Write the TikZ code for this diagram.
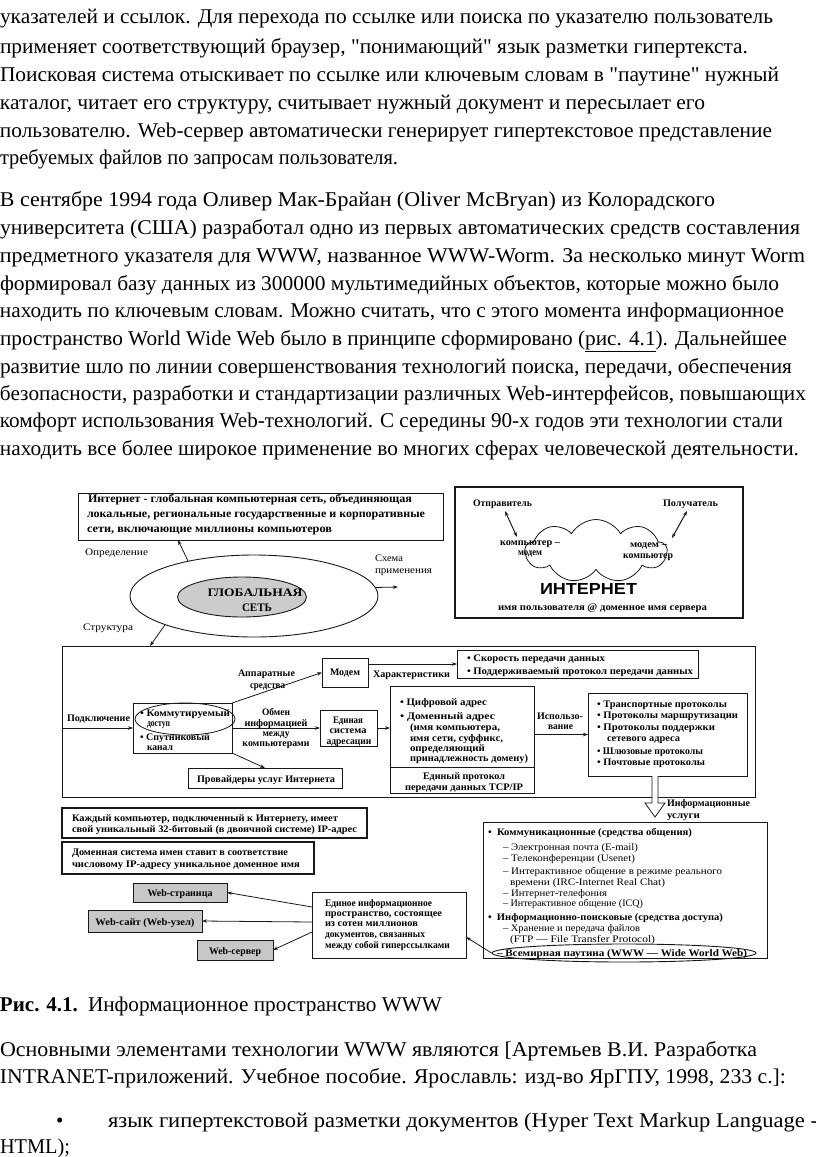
\documentclass[tikz,border=0pt]{standalone}
\usepackage{fontspec}
\setmainfont{Liberation Serif}[Ligatures=TeXOff]
\newfontfamily\sansb{Liberation Sans}
\usepackage{graphicx}
\usetikzlibrary{shapes.geometric,shapes.symbols,arrows.meta,calc}
\newcommand\fl[2]{\resizebox{#1pt}{\height}{#2}}
\newcommand\tl[4]{\node[txt] (#1) at (#2) {\fl{#3}{#4}};}
\newcommand\tc[4]{\node[txtc] (#1) at (#2) {\fl{#3}{#4}};}
\newcommand\bx[6][]{\node[box,#1,minimum width={(#5-#3)*1pt},minimum height={(#6-#4)*1pt}] (#2) at ({(#3+#5)/2},{(#4+#6)/2}) {};}
\begin{document}
\begin{tikzpicture}[x=1pt,y=-1pt,
  txt/.style={anchor=base west,inner sep=0pt,outer sep=0pt},
  txtc/.style={anchor=base,inner sep=0pt,outer sep=0pt},
  box/.style={draw=black!90,line width=0.8pt,inner sep=0pt,outer sep=0pt},
  gbox/.style={box,fill=black!22,line width=1pt},
  arr/.style={draw=black!90,line width=0.8pt,-{Stealth[length=5pt,width=3.5pt]}},
  darr/.style={draw=black!90,line width=1pt,{Stealth[length=5pt,width=3.5pt]}-{Stealth[length=5pt,width=3.5pt]}},
  main/.style={font=\fontsize{21}{25}\selectfont},
  dg/.style={font=\fontsize{10}{11}\selectfont\bfseries},
  dgr/.style={font=\fontsize{10}{11}\selectfont}]
\useasboundingbox[fill=white] (0,0) rectangle (816,1157);

% ---------------- main text ----------------
\begin{scope}[every node/.append style={main}]
\tl{p1}{0,23}{773}{указателей и ссылок. Для перехода по ссылке или поиска по указателю пользователь}
\tl{p2}{0,53}{748}{применяет соответствующий браузер, "понимающий" язык разметки гипертекста.}
\tl{p3}{0,81}{779}{Поисковая система отыскивает по ссылке или ключевым словам в "паутине" нужный}
\tl{p4}{0,109}{705}{каталог, читает его структуру, считывает нужный документ и пересылает его}
\tl{p5}{0,137}{772}{пользователю. Web-сервер автоматически генерирует гипертекстовое представление}
\tl{p6}{0,164}{398}{требуемых файлов по запросам пользователя.}
\tl{q1}{0,206}{715}{В сентябре 1994 года Оливер Мак-Брайан (Oliver McBryan) из Колорадского}
\tl{q2}{0,234}{800}{университета (США) разработал одно из первых автоматических средств составления}
\tl{q3}{0,262}{805}{предметного указателя для WWW, названное WWW-Worm. За несколько минут Worm}
\tl{q4}{0,290}{779}{формировал базу данных из 300000 мультимедийных объектов, которые можно было}
\tl{q5}{0,317}{784}{находить по ключевым словам. Можно считать, что с этого момента информационное}
\tl{q6}{0,345}{787}{пространство World Wide Web было в принципе сформировано (\underline{рис. 4.1}). Дальнейшее}
\tl{q7}{0,373}{792}{развитие шло по линии совершенствования технологий поиска, передачи, обеспечения}
\tl{q8}{0,400}{806}{безопасности, разработки и стандартизации различных Web-интерфейсов, повышающих}
\tl{q9}{0,427}{783}{комфорт использования Web-технологий. С середины 90-х годов эти технологии стали}
\tl{q10}{0,455}{799}{находить все более широкое применение во многих сферах человеческой деятельности.}
\tl{cap1}{0,1011}{78}{\bfseries Рис. 4.1.}
\tl{cap2}{88,1011}{354}{Информационное пространство WWW}
\tl{r1}{0,1056}{757}{Основными элементами технологии WWW являются [Артемьев В.И. Разработка}
\tl{r2}{0,1083}{786}{INTRANET-приложений. Учебное пособие. Ярославль: изд-во ЯрГПУ, 1998, 233 с.]:}
\node[txt] (bul) at (56,1127) {•};
\tl{r3}{108,1127}{710}{язык гипертекстовой разметки документов (Hyper Text Markup Language -}
\tl{r4}{0,1153}{70}{HTML);}
\end{scope}

% ---------------- top-left: definition ----------------
\bx{defb}{78}{493}{443}{540}
\begin{scope}[every node/.append style={font=\fontsize{11.5}{12}\selectfont\bfseries}]
\tl{d1}{88,502}{324}{Интернет - глобальная компьютерная сеть, объединяющая}
\tl{d2}{87,517}{338}{локальные, региональные государственные и корпоративные}
\tl{d3}{87,532}{245}{сети, включающие миллионы компьютеров}
\end{scope}
\node[draw=black!90,line width=0.9pt,ellipse,minimum width=248pt,minimum height=82pt,inner sep=0pt] (bigell) at (254,596) {};
\node[draw=black!90,line width=0.9pt,fill=black!20,ellipse,minimum width=129pt,minimum height=40pt,inner sep=0pt] (inell) at (242,597) {};
\begin{scope}[every node/.append style={font=\fontsize{11.5}{12}\selectfont\bfseries}]
\tc{g1}{255,596}{95}{ГЛОБАЛЬНАЯ}
\tc{g2}{257,611}{30}{СЕТЬ}
\end{scope}
\begin{scope}[every node/.append style={dgr}]
\tl{l1}{85,555}{63}{Определение}
\tl{l2}{375,561}{28}{Схема}
\tl{l3}{375,573}{57}{применения}
\tl{l4}{83,630}{50}{Структура}
\end{scope}
\coordinate (da) at (178,540);
\coordinate (sp) at (398,587);
\coordinate (sa) at (150,646);
\draw[arr] (bigell.152) -- (da);
\draw[arr] (bigell.4) -- (sp);

% ---------------- top-right: internet ----------------
\bx[line width=1.4pt]{inetb}{455}{487}{743}{618}
\node[cloud,draw=black!90,line width=0.8pt,cloud puffs=9,cloud puff arc=120,aspect=2.2,minimum width=142pt,minimum height=63pt,inner sep=0pt] (cl) at (596,551) {};
\begin{scope}[every node/.append style={dg}]
\tl{i1}{473,506}{59}{Отправитель}
\tl{i2}{663,506}{55}{Получатель}
\tl{i3}{500,545}{60}{компьютер –}
\tl{i4}{518,555}{24}{модем}
\tl{i5}{630,547}{37}{модем –}
\tl{i6}{623,558}{50}{компьютер}
\tl{i8}{498,610}{209}{имя пользователя @ доменное имя сервера}
\end{scope}
\node[txt,font=\fontsize{16}{18}\selectfont\sansb\bfseries] (i7) at (540,594) {\fl{97}{ИНТЕРНЕТ}};
\coordinate (s1) at (505,511);
\coordinate (s2) at (517,537);
\coordinate (s3) at (687,511);
\coordinate (s4) at (672,538);
\draw[darr] (s1) -- (s2);
\draw[darr] (s3) -- (s4);

% ---------------- structure box ----------------
\bx{bigb}{62}{646}{755}{797}
\draw[arr] (bigell.198) -- (sa);
\bx{bb}{133}{703}{232}{753}
\node[draw=black!90,line width=0.8pt,ellipse,minimum width=100pt,minimum height=32pt,inner sep=0pt] (kell) at (185,719) {};
\bx{modem}{322}{658}{368}{687}
\bx{charb}{457}{650}{698}{678}
\bx{edin}{320}{710}{377}{746}
\bx{addr}{390}{686}{534}{793}
\draw[draw=black!90,line width=0.8pt] (addr.west |- 0,767) -- (addr.east |- 0,767);
\bx{proto}{588}{693}{747}{776}
\bx{prov}{188}{768}{342}{788}
\draw[arr] (bigb.west |- bb.west) -- (bb.west);
\draw[arr] (bb.north east) -- (modem.west);
\draw[arr] (modem.east |- charb.west) -- (charb.west);
\draw[arr] (bb.east) -- (bb.east -| edin.west);
\draw[arr] (edin.east) -- (edin.east -| addr.west);
\draw[arr] (addr.east |- proto.west) -- (proto.west);
\draw[arr] (bb.south east) -- (prov.north);
\begin{scope}[every node/.append style={dg}]
\tl{c1}{67,721}{63}{Подключение}
\tl{c2}{140,716}{90}{• Коммутируемый}
\tl{c3}{147,726}{23}{доступ}
\tl{c4}{140,740}{70}{• Спутниковый}
\tl{c5}{147,750}{26}{канал}
\tl{c6}{238,676}{57}{Аппаратные}
\tl{c7}{250,688}{35}{средства}
\tl{c8}{330,675}{30}{Модем}
\tl{c9}{373,677}{77}{Характеристики}
\tl{c10}{467,661}{138}{• Скорость передачи данных}
\tl{c11}{467,674}{226}{• Поддерживаемый протокол передачи данных}
\tc{c12}{276,715}{28}{Обмен}
\tc{c13}{276,726}{63}{информацией}
\tc{c14}{276,736}{27}{между}
\tc{c15}{276,746}{67}{компьютерами}
\tc{c16}{348,723}{30}{Единая}
\tc{c17}{348,733}{37}{система}
\tc{c18}{349,744}{45}{адресации}
\tl{c19}{400,705}{87}{• Цифровой адрес}
\tl{c20}{400,719}{95}{• Доменный адрес}
\tl{c21}{410,730}{90}{(имя компьютера,}
\tl{c22}{410,741}{93}{имя сети, суффикс,}
\tl{c23}{410,751}{75}{определяющий}
\tl{c24}{410,761}{118}{принадлежность домену)}
\tc{c25}{464,779}{82}{Единый протокол}
\tc{c26}{464,790}{118}{передачи данных TCP/IP}
\tl{c27}{537,719}{46}{Использо-}
\tl{c28}{548,729}{25}{вание}
\tl{c29}{597,707}{130}{• Транспортные протоколы}
\tl{c30}{597,718}{141}{• Протоколы маршрутизации}
\tl{c31}{597,730}{118}{• Протоколы поддержки}
\tl{c32}{607,741}{73}{сетевого адреса}
\tl{c33}{597,754}{106}{• Шлюзовые протоколы}
\tl{c34}{597,765}{108}{• Почтовые протоколы}
\tl{c35}{197,782}{138}{Провайдеры услуг Интернета}
\end{scope}
% hollow arrow
\draw[draw=black!90,fill=white,line width=0.8pt] (652,776) -- (652,803) -- (645,803) -- (655,817) -- (665,803) -- (658,803) -- (658,776);

% ---------------- IP boxes ----------------
\bx[line width=1.3pt]{ip1}{62}{808}{367}{838}
\bx[line width=1.3pt]{ip2}{62}{842}{314}{874}
\begin{scope}[every node/.append style={dg}]
\tl{e1}{72,821}{266}{Каждый компьютер, подключенный к Интернету, имеет}
\tl{e2}{72,832}{285}{свой уникальный 32-битовый (в двоичной системе) IP-адрес}
\tl{e3}{72,855}{216}{Доменная система имен ставит в соответствие}
\tl{e4}{72,867}{228}{числовому IP-адресу уникальное доменное имя}
\tl{e5}{667,806}{83}{Информационные}
\tl{e6}{667,818}{33}{услуги}
\end{scope}

% ---------------- services ----------------
\bx{serv}{483}{822}{767}{958}
\node[draw=black!90,line width=0.9pt,ellipse,minimum width=264pt,minimum height=18pt,inner sep=0pt] (wwwell) at (624,953) {};
\begin{scope}[every node/.append style={dg}]
\tl{s5}{488,835}{204}{•\ \ Коммуникационные (средства общения)}
\tl{s10}{488,920}{235}{•\ \ Информационно-поисковые (средства доступа)}
\tl{s13}{497,956}{250}{– Всемирная паутина (WWW — Wide World Web)}
\end{scope}
\begin{scope}[every node/.append style={dgr}]
\tl{s6}{503,850}{135}{– Электронная почта (E-mail)}
\tl{s7}{503,861}{132}{– Телеконференции (Usenet)}
\tl{s8}{503,874}{219}{– Интерактивное общение в режиме реального}
\tl{s8b}{510,885}{155}{времени (IRC-Internet Real Chat)}
\tl{s9}{503,896}{104}{– Интернет-телефония}
\tl{s9b}{503,906}{140}{– Интерактивное общение (ICQ)}
\tl{s11}{503,931}{137}{– Хранение и передача файлов}
\tl{s12}{510,942}{145}{(FTP — File Transfer Protocol)}
\end{scope}

% ---------------- web ----------------
\bx[gbox]{webp}{133}{883}{227}{902}
\bx[gbox]{webs}{88}{910}{202}{932}
\bx[gbox]{webv}{197}{940}{273}{960}
\bx{edn}{312}{892}{466}{958}
\begin{scope}[every node/.append style={dg}]
\tc{w1}{180,896}{65}{Web-страница}
\tc{w2}{145,925}{99}{Web-сайт (Web-узел)}
\tc{w3}{235,954}{52}{Web-сервер}
\tl{w4}{325,906}{107}{Единое информационное}
\tl{w5}{325,916}{117}{пространство, состоящее}
\tl{w6}{325,926}{93}{из сотен миллионов}
\tl{w7}{325,937}{100}{документов, связанных}
\tl{w8}{325,948}{125}{между собой гиперссылками}
\end{scope}
\draw[arr] ($(edn.west)+(0,-18)$) -- (webp.east);
\draw[arr] ($(edn.west)+(0,-3)$) -- (webs.east);
\draw[arr] ($(edn.west)+(0,7)$) -- (webv.east);
\draw[arr] (wwwell.west) -- ($(edn.east)+(0,12)$);
\end{tikzpicture}
\end{document}
